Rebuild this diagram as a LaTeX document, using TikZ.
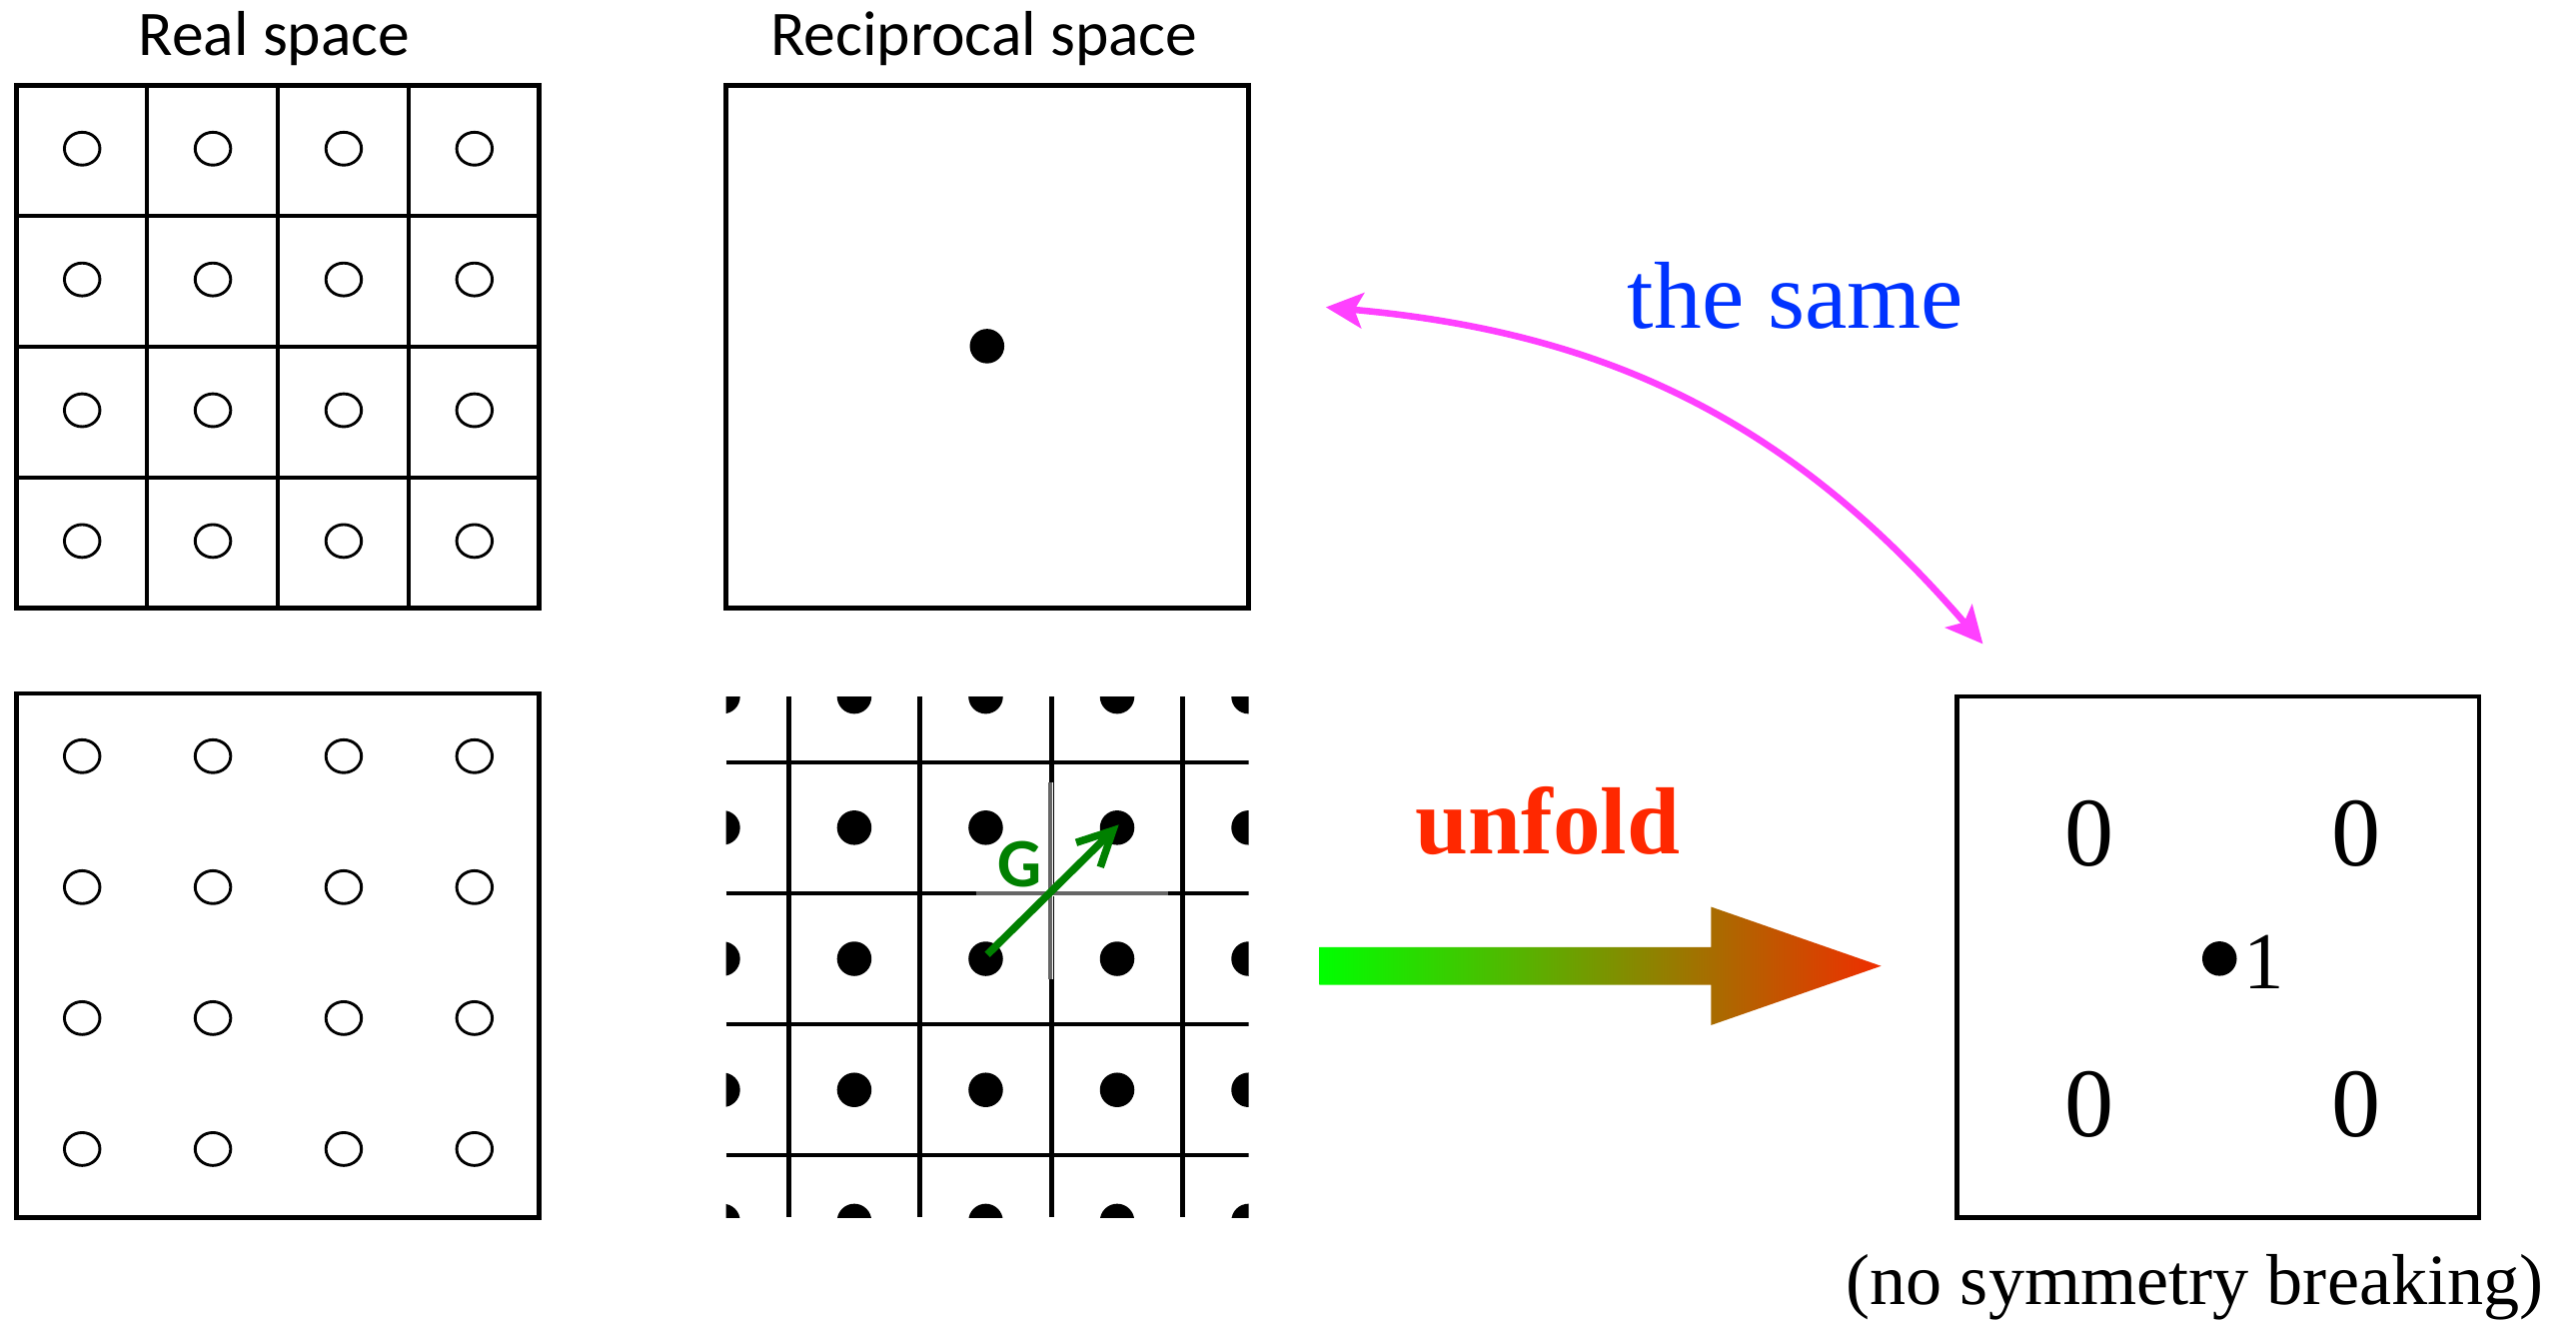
\documentclass[tikz,border=0pt]{standalone}
\usepackage{fontspec}
\setmainfont{Liberation Serif}
\newfontfamily\cfont{Carlito}
\usetikzlibrary{arrows.meta}
\definecolor{samecol}{RGB}{0,51,255}
\definecolor{unfoldcol}{RGB}{255,40,0}
\definecolor{pinkcol}{RGB}{255,64,255}
\definecolor{gcol}{RGB}{0,128,0}
\definecolor{arrgreen}{RGB}{0,255,0}
\definecolor{arrred}{RGB}{240,45,0}

\begin{document}
\begin{tikzpicture}[x=0.02cm,y=-0.02cm,
  frame/.style={line width=1.6pt},
  cell/.style={line width=1.4pt},
  latline/.style={line width=1.6pt},
  site/.style={line width=1pt},
  title/.style={font=\cfont\fontsize{22}{26}\selectfont,anchor=base},
  big/.style={font=\fontsize{34}{40}\selectfont,anchor=base},
  >={Stealth[length=4.5mm,width=4.3mm,inset=1mm]}]
\useasboundingbox (0,0) rectangle (1568,807);

\node[title] (real) at (167,34) {Real space};
\node[title] (recip) at (599,34) {Reciprocal space};

% real space: supercell grid and plain lattice
\draw[frame] (10,52) rectangle (328,370);
\draw[frame] (10,422) rectangle (328,741);
\foreach \k in {1,2,3} {
  \draw[cell] (10+79.5*\k,52) -- ++(0,318);
  \draw[cell] (10,52+79.5*\k) -- ++(318,0);
}
\foreach \i in {0,...,3}
  \foreach \j in {0,...,3} {
    \draw[site] (50+79.6*\i,90.5+79.6*\j) circle[x radius=10.8,y radius=10];
    \draw[site] (50+79.6*\i,460.3+79.7*\j) circle[x radius=10.8,y radius=10];
  }

% reciprocal space
\draw[frame] (442,52) rectangle (760,370);
\fill (600.8,210.7) circle[radius=10.5];
\begin{scope}
  \clip (442,424) rectangle (760,741);
  \foreach \k in {0,...,3} {
    \draw[latline] (480+80*\k,424) -- ++(0,317);
    \draw[latline] (442,464+79.7*\k) -- ++(318,0);
  }
  \foreach \i in {0,...,4}
    \foreach \j in {0,...,4}
      \fill (440+80*\i,424+79.8*\j) circle[radius=10.5];
\end{scope}
\draw[white,line width=1.8pt] (594,544) -- (711,544) (639.5,476) -- (639.5,596);
\draw[black!60,line width=1.4pt] (594,544) -- (711,544) (639.5,476) -- (639.5,596);
\coordinate (g0) at (601,581);
\coordinate (g1) at (681,502);
\draw[gcol,line width=2.6pt,-{Straight Barb[length=4.2mm,width=4.2mm]}] (g0) -- (g1);
\node[font=\cfont\bfseries\fontsize{24}{28}\selectfont,text=gcol] (G) at (621,526) {G};

% the same
\coordinate (sameL) at (807,187);
\coordinate (sameR) at (1207,392);
\draw[pinkcol,line width=0.08cm,<->] (sameL) to[bend left=22] (sameR);
\node[font=\fontsize{33}{40}\selectfont,text=samecol,anchor=base] (same) at (1093,200) {the same};

% unfold
\coordinate (uA) at (803,588);
\coordinate (uB) at (1145,588);
\shade[left color=arrgreen,right color=arrred] (uA) ++(0,-11.5) -- ++(238.5,0) -- ++(0,-24.5) -- (uB)
  -- ++(-103.5,36) -- ++(0,-24.5) -- ++(-238.5,0) -- cycle;
\node[font=\bfseries\fontsize{33}{40}\selectfont,text=unfoldcol,anchor=base] (unfold) at (942,520) {unfold};

% unfolded weights
\draw[frame] (1191,424) rectangle (1509,741);
\node[big] (z1) at (1272,527) {0};
\node[big] (z2) at (1434,527) {0};
\node[big] (z3) at (1272,692) {0};
\node[big] (z4) at (1434,692) {0};
\fill (1351,583.5) circle[radius=10.5];
\node[font=\fontsize{28}{32}\selectfont,anchor=base] (one) at (1378,602) {1};
\node[font=\fontsize{25}{30}\selectfont,anchor=base] (nosb) at (1336,794) {(no symmetry breaking)};
\end{tikzpicture}
\end{document}
